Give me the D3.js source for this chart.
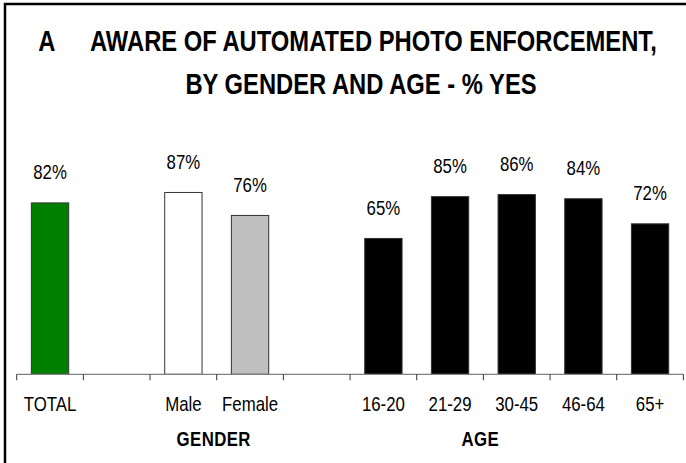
<!DOCTYPE html>
<html><head><meta charset="utf-8">
<script src="https://cdn.jsdelivr.net/npm/d3@7/dist/d3.min.js"></script>
<style>html,body{margin:0;padding:0;background:#fff;}svg{display:block;}</style>
</head><body>
<svg id="chart" width="686" height="463"></svg>
<script>
const categories = ["TOTAL", "", "Male", "Female", " ", "16-20", "21-29", "30-45", "46-64", "65+"];
const values = [82, null, 87, 76, null, 65, 85, 86, 84, 72];
const barColors = ["#008000", null, "#ffffff", "#c0c0c0", null, "#000000", "#000000", "#000000", "#000000", "#000000"];
const groupLabels = [{text: "GENDER", from: "Male", to: "Female"}, {text: "AGE", from: "21-29", to: "30-45"}];
const titleLetter = "A";
const titleLine1 = "AWARE OF AUTOMATED PHOTO ENFORCEMENT,";
const titleLine2 = "BY GENDER AND AGE - % YES";

// detect narrow font
const cv = document.createElement("canvas").getContext("2d");
cv.font = "20px 'Liberation Sans Narrow', monospace";
const w1 = cv.measureText("ABCDEFGHIJ 82%").width;
cv.font = "20px monospace";
const w2 = cv.measureText("ABCDEFGHIJ 82%").width;
const hasNarrow = Math.abs(w1 - w2) > 0.5;
const FONT = hasNarrow ? "'Liberation Sans Narrow', 'Liberation Sans', Arial, sans-serif" : "'Liberation Sans', Arial, sans-serif";
const SX = hasNarrow ? 1 : 0.82;

const svg = d3.select("#chart");
svg.append("rect").attr("width", 686).attr("height", 463).attr("fill", "#fff");
svg.append("rect").attr("x", 5).attr("y", 4).attr("width", 720).attr("height", 520)
  .attr("fill", "none").attr("stroke", "#000").attr("stroke-width", 2.5);

function txt(x, y, s, opts) {
  const g = svg.append("g").attr("transform", `translate(${x},${y}) scale(${SX},1)`);
  return g.append("text").attr("x", 0).attr("y", 0)
    .attr("font-family", FONT)
    .attr("font-size", opts.size)
    .attr("font-weight", opts.bold ? "bold" : "normal")
    .attr("text-anchor", opts.anchor || "middle")
    .attr("letter-spacing", opts.ls || 0)
    .attr("fill", "#000").text(s);
}

const x = d3.scaleBand().domain(categories).range([16.7, 683.4]).padding(0);
const y = d3.scaleLinear().domain([0, 100]).range([374.3, 165.3]);
const barW = x.bandwidth() * 0.56;

// Bars
const data = categories.map((c, i) => ({c, v: values[i], col: barColors[i]})).filter(d => d.v != null);
svg.append("g").selectAll("rect").data(data).join("rect")
  .attr("x", d => x(d.c) + (x.bandwidth() - barW) / 2)
  .attr("y", d => y(d.v))
  .attr("width", barW)
  .attr("height", d => y(0) - y(d.v))
  .attr("fill", d => d.col)
  .attr("stroke", "#333").attr("stroke-width", 1);

// value labels
data.forEach(d => {
  txt(x(d.c) + x.bandwidth() / 2, y(d.v) - 23.5, d.v + "%", {size: 20.5});
});

// axis
const ax = svg.append("g");
ax.append("line").attr("x1", x.range()[0]).attr("x2", x.range()[1])
  .attr("y1", y(0)).attr("y2", y(0)).attr("stroke", "#808080").attr("stroke-width", 1.2);
const bounds = categories.map(c => x(c)).concat([x.range()[1]]);
ax.selectAll("line.tick").data(bounds).join("line").attr("class", "tick")
  .attr("x1", d => d).attr("x2", d => d).attr("y1", y(0)).attr("y2", y(0) + 6)
  .attr("stroke", "#333").attr("stroke-width", 1);
categories.forEach(c => {
  if (c.trim() === "") return;
  txt(x(c) + x.bandwidth() / 2, 411, c, {size: 20.5});
});
groupLabels.forEach(g => {
  const cx = (x(g.from) + x(g.to) + x.bandwidth()) / 2 - 3;
  txt(cx, 446, g.text, {size: 20.5, bold: true, ls: 0.5});
});

// title
txt(38.3, 51, titleLetter, {size: 29, bold: true, anchor: "start"});
txt(90, 51, titleLine1, {size: 29, bold: true, anchor: "start"});
txt(361, 94, titleLine2, {size: 29, bold: true});
</script>
</body></html>
